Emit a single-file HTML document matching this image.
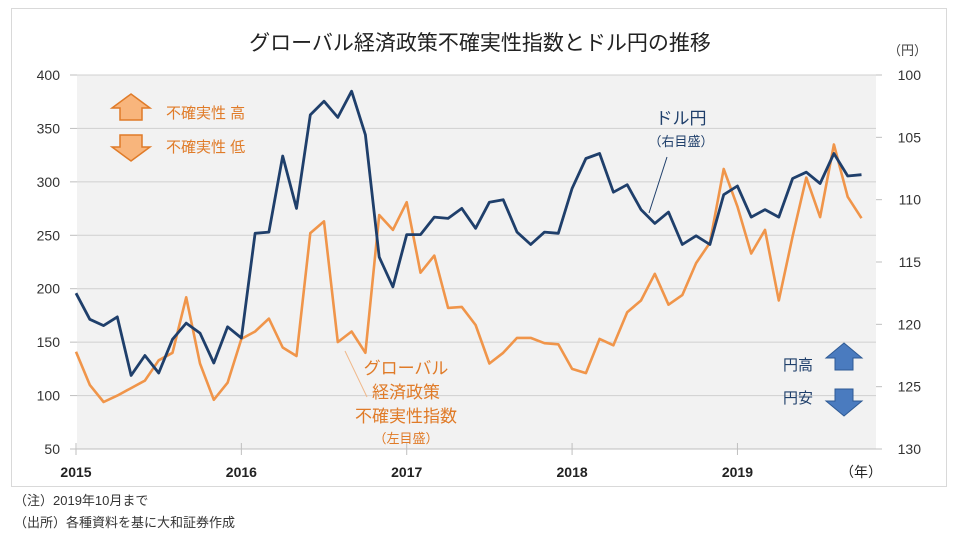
<!DOCTYPE html>
<html><head><meta charset="utf-8">
<style>
body{margin:0;background:#fff;width:960px;height:543px;overflow:hidden;font-family:"Liberation Sans","Noto Sans CJK JP",sans-serif;}
svg text{font-family:"Liberation Sans","Noto Sans CJK JP",sans-serif;}
</style></head>
<body>
<svg id="chart" width="960" height="543" viewBox="0 0 960 543">
<rect x="11.5" y="8.5" width="935" height="478" fill="#fff" stroke="#d9d9d9"/>
<text x="480" y="50" text-anchor="middle" font-size="21" fill="#222">グローバル経済政策不確実性指数とドル円の推移</text>
<rect x="77" y="75" width="799" height="374" fill="#f2f2f2"/>
<g id="grid"></g>
<g id="axes"></g>
<polyline id="epu" fill="none" stroke="#f0954a" stroke-width="2.6" stroke-linejoin="round"/>
<polyline id="usd" fill="none" stroke="#1f3f6b" stroke-width="2.8" stroke-linejoin="round"/>
<text x="888" y="55" font-size="13" fill="#444">（円）</text>
<text x="840" y="477" font-size="14" fill="#222">（年）</text>
<g>
<polygon points="131,94 150,108 142,108 142,120 120,120 120,108 112,108" fill="#f8b57c" stroke="#e07b28" stroke-width="1.5"/>
<text x="166" y="118" font-size="15" fill="#e07b28">不確実性 高</text>
</g>
<g>
<polygon points="131,161 150,147 142,147 142,135 120,135 120,147 112,147" fill="#f8b57c" stroke="#e07b28" stroke-width="1.5"/>
<text x="166" y="152" font-size="15" fill="#e07b28">不確実性 低</text>
</g>
<g>
<text x="681" y="124" text-anchor="middle" font-size="17" fill="#1f3f6b">ドル円</text>
<text x="681" y="146" text-anchor="middle" font-size="13" fill="#1f3f6b">（右目盛）</text>
<line x1="667" y1="157" x2="649" y2="213" stroke="#1f3f6b" stroke-width="1"/>
</g>
<g>
<text x="406" y="374" text-anchor="middle" font-size="17" fill="#e07b28">グローバル</text>
<text x="406" y="398" text-anchor="middle" font-size="17" fill="#e07b28">経済政策</text>
<text x="406" y="422" text-anchor="middle" font-size="17" fill="#e07b28">不確実性指数</text>
<text x="406" y="443" text-anchor="middle" font-size="13" fill="#e07b28">（左目盛）</text>
<line x1="345" y1="351" x2="367" y2="397" stroke="#f0b88a" stroke-width="1"/>
</g>
<g>
<text x="783" y="370" font-size="15" fill="#1f3f6b">円高</text>
<polygon points="844,343 862,358 853,358 853,370 835,370 835,358 826,358" fill="#4a7bbf" stroke="#2e5a94"/>
</g>
<g>
<text x="783" y="403" font-size="15" fill="#1f3f6b">円安</text>
<polygon points="844,416 862,401 853,401 853,389 835,389 835,401 826,401" fill="#4a7bbf" stroke="#2e5a94"/>
</g>
<text x="14" y="505" font-size="13" fill="#333">（注）2019年10月まで</text>
<text x="14" y="527" font-size="13" fill="#333">（出所）各種資料を基に大和証券作成</text>
</svg>
<script>
const years = ["2015","2016","2017","2018","2019"];
const leftTicks = [50,100,150,200,250,300,350,400];
const rightTicks = [100,105,110,115,120,125,130];
const epuValues = [141,110,94,100,107,114,133,140,192,130,96,112,
 153,160,172,145,137,252,263,150,160,140,269,255,
 281,215,231,182,183,166,130,140,154,154,149,148,
 125,121,153,147,178,189,214,185,194,224,243,312,
 277,233,255,189,249,304,267,335,286,266];
const usdjpyValues = [117.5,119.6,120.1,119.4,124.1,122.5,123.9,121.2,119.9,120.7,123.1,120.2,
 121.1,112.7,112.6,106.5,110.7,103.2,102.1,103.4,101.3,104.8,114.6,117.0,
 112.8,112.8,111.4,111.5,110.7,112.3,110.2,110.0,112.6,113.6,112.6,112.7,
 109.1,106.7,106.3,109.4,108.8,110.8,111.9,111.0,113.6,112.9,113.6,109.6,
 108.9,111.4,110.8,111.4,108.3,107.8,108.7,106.3,108.1,108.0];
const NS="http://www.w3.org/2000/svg";
const X0=76, STEP=13.78, TOP=75, BOT=449;
const xm = i => X0 + i*STEP;
const yL = v => BOT - (v-50)/(400-50)*(BOT-TOP);
const yR = v => TOP + (v-100)/(130-100)*(BOT-TOP);
function mk(tag, attrs, parent, txt){const e=document.createElementNS(NS,tag);for(const k in attrs)e.setAttribute(k,attrs[k]);if(txt!==undefined)e.textContent=txt;parent.appendChild(e);return e;}
const grid=document.getElementById('grid'), axes=document.getElementById('axes');
leftTicks.forEach(v=>{
  const y=yL(v);
  if(v>50){const g=mk('line',{x1:77,x2:876,y1:y,y2:y,stroke:'#d0d0d0','stroke-width':1},grid);
  
  }
  mk('line',{x1:70,x2:77,y1:y,y2:y,stroke:'#bfbfbf'},axes);
  const t=mk('text',{x:60,y:y+5,'text-anchor':'end','font-size':14,fill:'#333'},axes,v);
  
  
});
mk('line',{x1:77,x2:876,y1:BOT,y2:BOT,stroke:'#bfbfbf'},axes);
rightTicks.forEach(v=>{
  const y=yR(v);
  mk('line',{x1:876,x2:882,y1:y,y2:y,stroke:'#bfbfbf'},axes);
  const t=mk('text',{x:921,y:y+5,'text-anchor':'end','font-size':14,fill:'#333'},axes,v);
  
  
});
years.forEach((yr,i)=>{
  const x=xm(i*12);
  mk('line',{x1:x,x2:x,y1:BOT-6,y2:BOT+6,stroke:'#bfbfbf'},axes);
  const t=mk('text',{x:x,y:477,'text-anchor':'middle','font-size':14,'font-weight':'bold',fill:'#222'},axes,yr);
  
  
});
document.getElementById('epu').setAttribute('points',epuValues.map((v,i)=>xm(i).toFixed(1)+','+yL(v).toFixed(1)).join(' '));
document.getElementById('usd').setAttribute('points',usdjpyValues.map((v,i)=>xm(i).toFixed(1)+','+yR(v).toFixed(1)).join(' '));
</script>
</body></html>
